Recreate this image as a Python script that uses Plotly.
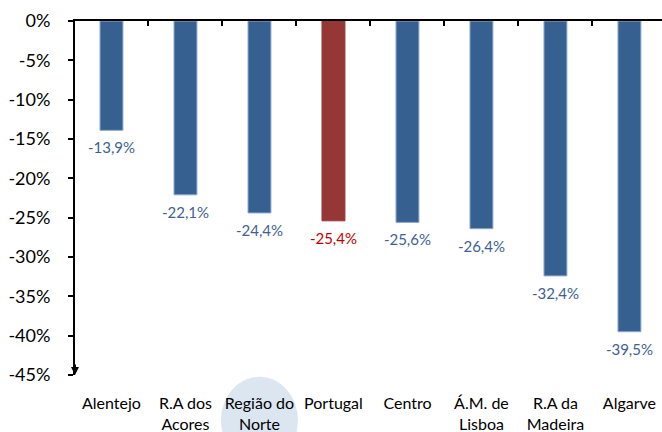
import plotly.graph_objects as go

categories = ["Alentejo", "R.A dos<br>Acores", "Região do<br>Norte", "Portugal", "Centro",
              "Á.M. de<br>Lisboa", "R.A da<br>Madeira", "Algarve"]
values = [-13.9, -22.1, -24.4, -25.4, -25.6, -26.4, -32.4, -39.5]
highlight = "Portugal"
y_ticks = [0, -5, -10, -15, -20, -25, -30, -35, -40, -45]
y_ticktext = [f"{v}%" for v in y_ticks]

BLUE = "#36608f"
RED = "#953735"
BLUE_TXT = "#3d6291"
RED_TXT = "#c00000"
FONT = "Lato"

idx = list(range(len(categories)))
colors = [RED if c == highlight else BLUE for c in categories]
line_colors = [RED if c == highlight else "#8eaad0" for c in categories]
txt_colors = [RED_TXT if c == highlight else BLUE_TXT for c in categories]
labels = [f"{v:.1f}%".replace(".", ",") for v in values]

fig = go.Figure()
fig.add_trace(go.Bar(
    x=idx, y=values, width=0.31,
    marker=dict(color=colors, line=dict(color=line_colors, width=1)),
    showlegend=False, hoverinfo="skip",
))
# value labels under the bar ends
fig.add_trace(go.Scatter(
    x=idx, y=values, mode="markers+text", text=labels,
    textposition="bottom center",
    marker=dict(size=17, opacity=0),
    textfont=dict(color=txt_colors, size=15, family=FONT),
    cliponaxis=False, showlegend=False, hoverinfo="skip",
))
# invisible trace for the top axis
fig.add_trace(go.Scatter(x=[0], y=[0], xaxis="x2", mode="markers",
                         marker=dict(opacity=0), showlegend=False, hoverinfo="skip"))

xr = [-0.493, 7.44]
fig.update_layout(
    width=662, height=432,
    margin=dict(l=75, r=0, t=21, b=57),
    paper_bgcolor="white", plot_bgcolor="white",
    font=dict(family=FONT, size=16, color="black"),
    xaxis=dict(range=xr, tickvals=idx, ticktext=categories, showline=False,
               showgrid=False, zeroline=False, ticks="", automargin=False,
               ticklabelstandoff=17,
               tickfont=dict(size=16, family=FONT, color="black")),
    xaxis2=dict(range=xr, overlaying="x", side="top", showline=True,
                linecolor="black", linewidth=2, showgrid=False, zeroline=False,
                ticks="inside", ticklen=5, tickwidth=2, tickcolor="black",
                automargin=False,
                tickvals=[i + 0.5 for i in idx[:-1]], showticklabels=False),
    yaxis=dict(range=[-45, 0], tickvals=y_ticks, ticktext=y_ticktext,
               showline=True, linecolor="black", linewidth=2,
               ticks="outside", ticklen=5, tickwidth=2, tickcolor="black",
               showgrid=False, zeroline=False, automargin=False,
               tickfont=dict(size=18, family=FONT, color="black"),
               ticklabelstandoff=14),
    bargap=0.6,
)
# highlight ellipse behind "Região do Norte"
hi = 2
fig.add_shape(type="circle", xref="x", yref="paper",
              x0=hi - 0.52, x1=hi + 0.52, y0=-0.25, y1=-0.005,
              fillcolor="#dce6f0", line=dict(width=0), layer="below")
# arrow at the bottom of the y axis
fig.add_annotation(xref="paper", yref="y", x=0, y=-45, ax=0, ay=-12,
                   showarrow=True, arrowhead=2, arrowsize=0.8, arrowwidth=2,
                   arrowcolor="black", text="")

fig.write_html("out.html", post_script="document.body.style.margin='0';",
               config={"displayModeBar": False})
